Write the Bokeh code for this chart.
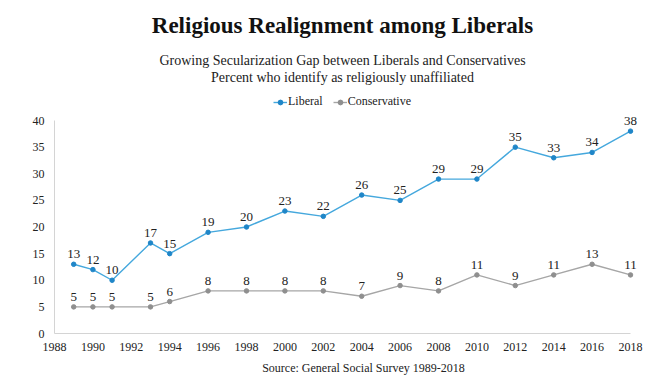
from bokeh.plotting import figure
from bokeh.models import (Range1d, FixedTicker, Label, LabelSet, ColumnDataSource,
                          Legend, LegendItem)
from bokeh.embed import file_html
from bokeh.resources import INLINE

years = [1989, 1990, 1991, 1993, 1994, 1996, 1998, 2000, 2002, 2004, 2006, 2008, 2010, 2012, 2014, 2016, 2018]
liberal = [13, 12, 10, 17, 15, 19, 20, 23, 22, 26, 25, 29, 29, 35, 33, 34, 38]
conservative = [5, 5, 5, 5, 6, 8, 8, 8, 8, 7, 9, 8, 11, 9, 11, 13, 11]
x_ticks = list(range(1988, 2019, 2))
y_ticks = list(range(0, 41, 5))

title_text = "Religious Realignment among Liberals"
subtitle1 = "Growing Secularization Gap between Liberals and Conservatives"
subtitle2 = "Percent who identify as religiously unaffiliated"
source_text = "Source: General Social Survey 1989-2018"

BLUE = "#45a8dd"
GRAY = "#a6a6a6"
FONT = "Liberation Serif"

# frame reaches the top and right edges so that annotations are not clipped;
# axes are limited with bounds to the data span
FW, FH = 618, 333
p = figure(frame_width=FW, frame_height=FH, output_backend="svg", toolbar_location=None,
           x_range=Range1d(1988, 1988 + 30 * FW / 576), y_range=Range1d(0, 40 * FH / 213),
           min_border_left=54, min_border_right=0, min_border_top=0, min_border_bottom=0)
p.outline_line_color = None
p.xgrid.grid_line_color = None
p.ygrid.grid_line_color = None
p.background_fill_color = "white"
p.border_fill_color = "white"

for ax in (p.xaxis[0], p.yaxis[0]):
    ax.axis_line_color = "#d4d4d4"
    ax.axis_line_width = 1
    ax.major_tick_line_color = None
    ax.minor_tick_line_color = None
    ax.major_tick_out = 0
    ax.major_tick_in = 0
    ax.minor_tick_out = 0
    ax.minor_tick_in = 0
    ax.major_label_text_font = FONT
    ax.major_label_text_font_size = "12px"
    ax.major_label_text_color = "#222222"
    ax.major_label_text_line_height = 1.0
p.xaxis.ticker = FixedTicker(ticks=x_ticks)
p.yaxis.ticker = FixedTicker(ticks=y_ticks)
p.xaxis.bounds = (1988, 2018)
p.yaxis.bounds = (0, 40)
p.xaxis.major_label_standoff = 9
p.yaxis.major_label_standoff = 10
p.xaxis.axis_label = source_text
p.xaxis.axis_label_text_font = FONT
p.xaxis.axis_label_text_font_style = "normal"
p.xaxis.axis_label_text_font_size = "12px"
p.xaxis.axis_label_text_color = "#222222"
p.xaxis.axis_label_text_line_height = 1.0
p.xaxis.axis_label_standoff = 7

src_l = ColumnDataSource(dict(x=years, y=liberal, t=[str(v) for v in liberal]))
src_c = ColumnDataSource(dict(x=years, y=conservative, t=[str(v) for v in conservative]))

l1 = p.line("x", "y", source=src_l, line_color=BLUE, line_width=1.4)
m1 = p.scatter("x", "y", source=src_l, size=4.5, color="#1f86c8")
l2 = p.line("x", "y", source=src_c, line_color=GRAY, line_width=1.4)
m2 = p.scatter("x", "y", source=src_c, size=4.5, color="#8f8f8f")

for s in (src_l, src_c):
    p.add_layout(LabelSet(x="x", y="y", text="t", source=s, y_offset=6,
                          text_align="center", text_baseline="bottom",
                          text_font=FONT, text_font_size="13px", text_color="#222222"))

legend = Legend(items=[LegendItem(label="Liberal", renderers=[l1, m1]),
                       LegendItem(label="Conservative", renderers=[l2, m2])],
                orientation="horizontal", location=(219, 224),
                label_text_font=FONT, label_text_font_size="12px", label_text_color="#222222",
                glyph_width=14, glyph_height=12, label_standoff=1, spacing=10,
                padding=0, margin=0, border_line_alpha=0, background_fill_alpha=0)
p.add_layout(legend, "center")

p.add_layout(Label(x=288, y=308, x_units="screen", y_units="screen", text=title_text,
                   text_align="center", text_baseline="middle", text_font=FONT,
                   text_font_style="bold", text_font_size="23px", text_color="#111111"))
p.add_layout(Label(x=288, y=273, x_units="screen", y_units="screen", text=subtitle1,
                   text_align="center", text_baseline="middle", text_font=FONT,
                   text_font_size="14px", text_color="#222222"))
p.add_layout(Label(x=288, y=256, x_units="screen", y_units="screen", text=subtitle2,
                   text_align="center", text_baseline="middle", text_font=FONT,
                   text_font_size="14px", text_color="#222222"))

open("out.html", "w").write(file_html(p, INLINE))
